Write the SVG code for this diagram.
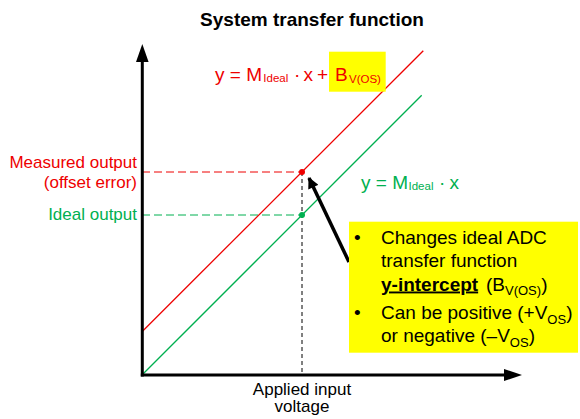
<svg xmlns="http://www.w3.org/2000/svg" width="580" height="419" viewBox="0 0 580 419">
<style>
text{font-family:"Liberation Sans",Arial,sans-serif;}
.lbl{font-size:17px;}
.eq{font-size:19px;}
.sub{font-size:11.5px;}
.box{font-size:19px;fill:#000;}
.bs{font-size:13px;}
.red{fill:#EE0000;}
.grn{fill:#00B050;}
</style>
<defs>
<marker id="ah" viewBox="0 0 10 10" refX="9" refY="5" markerWidth="3.6" markerHeight="3.2" orient="auto" markerUnits="strokeWidth">
<path d="M0,0 L10,5 L0,10 Z" fill="#000"/>
</marker>
</defs>
<rect width="580" height="419" fill="#fff"/>
<text x="312" y="26" text-anchor="middle" font-size="19" font-weight="bold">System transfer function</text>

<g id="connectors">
<line x1="142" y1="172" x2="302" y2="172" stroke="#EE0000" stroke-width="1" stroke-dasharray="8 4"/>
<line x1="142" y1="215" x2="302" y2="215" stroke="#00B050" stroke-width="1" stroke-dasharray="8 4"/>
<line x1="302" y1="172" x2="302" y2="375" stroke="#000" stroke-width="1" stroke-dasharray="4 3"/>
<line x1="142" y1="331.7" x2="423.3" y2="50.7" stroke="#EE0000" stroke-width="1.3"/>
<line x1="142" y1="375" x2="421.7" y2="95.3" stroke="#00B050" stroke-width="1.3"/>
<line x1="349" y1="262" x2="309" y2="178" stroke="#000" stroke-width="3.5" marker-end="url(#ah)"/>
</g>

<g id="axes">
<line x1="142.3" y1="376.5" x2="142.3" y2="60" stroke="#000" stroke-width="3"/>
<polygon points="142.3,44 136,62 148.6,62" fill="#000"/>
<line x1="140.8" y1="375" x2="505" y2="375" stroke="#000" stroke-width="3"/>
<polygon points="522,375 504,369 504,381" fill="#000"/>
</g>

<g id="points">
<circle cx="302" cy="172" r="3" fill="#EE0000"/>
<circle cx="302" cy="215" r="3" fill="#00B050"/>
</g>

<g id="eq-measured">
<rect x="329" y="51.7" width="56.7" height="40" fill="#FFFF00"/>
<text class="eq red" y="81"><tspan x="215">y = M</tspan><tspan x="263.3" class="sub" dy="1">Ideal</tspan><tspan x="294" dy="-1">·</tspan><tspan x="303.5">x</tspan><tspan x="317">+</tspan><tspan x="335">B</tspan><tspan x="349" class="sub" dy="1.5">V(OS)</tspan></text>
</g>

<g id="eq-ideal">
<text class="eq grn" y="189"><tspan x="361">y = M</tspan><tspan x="408.5" class="sub" dy="1">Ideal</tspan><tspan x="439" dy="-1">·</tspan><tspan x="449.5">x</tspan></text>
</g>

<g id="label-measured">
<text class="lbl red" x="137" y="168" text-anchor="end">Measured output</text>
<text class="lbl red" x="137" y="187.5" text-anchor="end">(offset error)</text>
</g>

<g id="label-ideal">
<text class="lbl grn" x="137" y="220" text-anchor="end">Ideal output</text>
</g>

<g id="label-xaxis">
<text class="lbl" x="302" y="394.5" text-anchor="middle">Applied input</text>
<text class="lbl" x="302" y="412" text-anchor="middle">voltage</text>
</g>

<g id="note">
<rect x="349" y="221.7" width="229" height="131" fill="#FFFF00"/>
<text class="box" x="354" y="244">•</text>
<text class="box" x="381" y="244">Changes ideal ADC</text>
<text class="box" x="381" y="267">transfer function</text>
<text class="box" y="290.5"><tspan x="381" font-weight="bold" text-decoration="underline">y-intercept</tspan><tspan x="486">(B</tspan><tspan class="bs" dy="4.5">V(OS)</tspan><tspan dy="-4.5">)</tspan></text>
<text class="box" x="354" y="319">•</text>
<text class="box" y="319"><tspan x="381">Can be positive (+V</tspan><tspan class="bs" dy="4.5">OS</tspan><tspan dy="-4.5">)</tspan></text>
<text class="box" y="342"><tspan x="381">or negative (–V</tspan><tspan class="bs" dy="4.5">OS</tspan><tspan dy="-4.5">)</tspan></text>
</g>
</svg>
